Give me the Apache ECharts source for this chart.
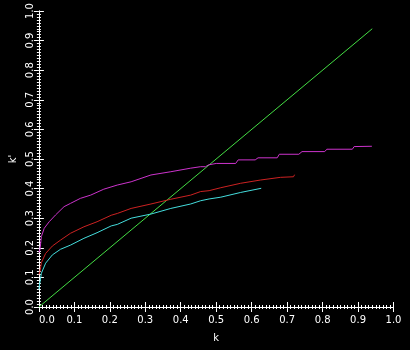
<!DOCTYPE html>
<html>
<head>
<meta charset="utf-8">
<script src="https://cdn.jsdelivr.net/npm/echarts@6/dist/echarts.min.js"></script>
<style>
html,body{margin:0;padding:0;background:#000;}
#c{width:410px;height:350px;}
</style>
</head>
<body>
<div id="c"></div>
<script>
var xTicks = [0.0,0.1,0.2,0.3,0.4,0.5,0.6,0.7,0.8,0.9,1.0];
var yTicks = [0.0,0.1,0.2,0.3,0.4,0.5,0.6,0.7,0.8,0.9,1.0];

var magentaK = [0, 0.003, 0.007, 0.015, 0.029, 0.047, 0.071, 0.089, 0.117, 0.146, 0.183, 0.221, 0.260, 0.316, 0.372, 0.428, 0.456, 0.470, 0.478, 0.500, 0.555, 0.562, 0.610, 0.618, 0.672, 0.678, 0.733, 0.742, 0.806, 0.812, 0.884, 0.889, 0.939];
var magentaV = [0.185, 0.193, 0.238, 0.266, 0.288, 0.311, 0.339, 0.350, 0.367, 0.378, 0.398, 0.412, 0.423, 0.446, 0.457, 0.469, 0.474, 0.474, 0.480, 0.485, 0.485, 0.497, 0.497, 0.504, 0.504, 0.516, 0.516, 0.525, 0.525, 0.533, 0.533, 0.542, 0.543];

var redK = [0, 0.003, 0.007, 0.019, 0.038, 0.061, 0.089, 0.127, 0.164, 0.204, 0.221, 0.260, 0.316, 0.372, 0.428, 0.456, 0.480, 0.513, 0.569, 0.625, 0.681, 0.718, 0.721];
var redV = [0.11, 0.120, 0.150, 0.181, 0.206, 0.226, 0.249, 0.271, 0.288, 0.310, 0.316, 0.333, 0.348, 0.364, 0.378, 0.390, 0.393, 0.403, 0.418, 0.429, 0.438, 0.440, 0.447];

var cyanK = [0, 0.001, 0.007, 0.019, 0.038, 0.061, 0.089, 0.127, 0.164, 0.204, 0.221, 0.260, 0.316, 0.372, 0.428, 0.456, 0.480, 0.513, 0.569, 0.627];
var cyanV = [0.06, 0.069, 0.114, 0.148, 0.176, 0.195, 0.209, 0.232, 0.251, 0.274, 0.279, 0.300, 0.314, 0.333, 0.348, 0.359, 0.365, 0.371, 0.387, 0.401];

var greenK = [0, 0.94];
var greenV = [0, 0.94];

function pairs(xs, ys){ return xs.map(function(x,i){ return [x, ys[i]]; }); }

var FONT = 'DejaVu Sans';
function axisCommon(showLabel){
  return {
    type:'value', min:0, max:1, interval:0.1,
    axisLine:{show:true, lineStyle:{color:'#fff', width:1}},
    axisTick:{show:true, inside:true, length:5, lineStyle:{color:'#fff'}},
    minorTick:{show:true, splitNumber:10, length:2, lineStyle:{color:'#fff'}},
    splitLine:{show:false},
    axisLabel:{show:showLabel, color:'#fff', fontFamily:FONT, fontSize:10,
      formatter:function(v){ return v.toFixed(1); }}
  };
}

var chart = echarts.init(document.getElementById('c'), null, {renderer:'canvas'});
var xb = axisCommon(true);
xb.position='bottom'; xb.name='k'; xb.nameLocation='middle'; xb.nameGap=26;
xb.nameTextStyle={color:'#fff', fontFamily:FONT, fontSize:10};
xb.axisLabel.margin=8; xb.axisLabel.alignMinLabel='left';
var xt = axisCommon(false); xt.position='top';
var yl = axisCommon(true);
yl.position='left'; yl.name="k'"; yl.nameLocation='middle'; yl.nameGap=20; yl.nameRotate=90;
yl.nameTextStyle={color:'#fff', fontFamily:FONT, fontSize:10};
yl.axisLabel.rotate=90; yl.axisLabel.margin=3;
var yr = axisCommon(false); yr.position='right';

chart.setOption({
  backgroundColor:'#000',
  animation:false,
  grid:{left:37.5, top:11, right:16.5, bottom:43, containLabel:false},
  xAxis:[xb, xt],
  yAxis:[yl, yr],
  series:[
    {type:'line', data:pairs(greenK, greenV), showSymbol:false, lineStyle:{color:'#44dd44', width:1}},
    {type:'line', data:pairs(magentaK, magentaV), showSymbol:false, lineStyle:{color:'#cc33cc', width:1}},
    {type:'line', data:pairs(redK, redV), showSymbol:false, lineStyle:{color:'#cc2222', width:1}},
    {type:'line', data:pairs(cyanK, cyanV), showSymbol:false, lineStyle:{color:'#44dddd', width:1}}
  ]
});
</script>
</body>
</html>
